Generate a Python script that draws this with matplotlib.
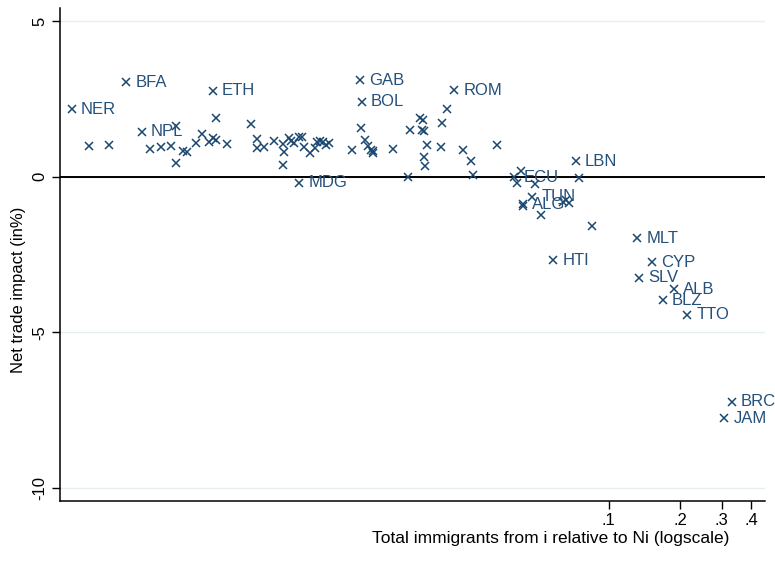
import matplotlib
matplotlib.use("Agg")
import matplotlib.pyplot as plt
from matplotlib.ticker import FixedLocator, FixedFormatter, NullLocator

plt.rcParams['font.family'] = ['Liberation Sans', 'DejaVu Sans']

# Labelled countries: immigrant share (x) and net trade impact in % (y)
labelled_codes = ["NER", "BFA", "NPL", "ETH", "MDG", "GAB", "BOL", "ROM", "ECU",
                  "LBN", "TUN", "ALG", "HTI", "MLT", "CYP", "SLV", "ALB", "BLZ",
                  "TTO", "BRC", "JAM"]
labelled_x = [0.000542, 0.000922, 0.00107, 0.00213, 0.00495, 0.00895, 0.00910,
              0.02231, 0.0400, 0.07258, 0.0476, 0.04363, 0.05838, 0.1320,
              0.1523, 0.1339, 0.1886, 0.1690, 0.2146, 0.3304, 0.3075]
labelled_y = [2.17, 3.04, 1.45, 2.76, -0.19, 3.10, 2.40, 2.77, -0.01, 0.50,
              -0.65, -0.88, -2.68, -1.98, -2.74, -3.24, -3.62, -3.97, -4.43,
              -7.23, -7.75]

# Remaining countries (unlabelled)
other_x = [0.000643, 0.000779, 0.00116, 0.00129, 0.00142, 0.00149, 0.00149,
           0.00160, 0.00167, 0.00181, 0.00192, 0.00206, 0.00215, 0.00220,
           0.00221, 0.00246, 0.00311, 0.00327, 0.00327, 0.00352, 0.00386,
           0.00424, 0.00428, 0.00422, 0.00449, 0.00455, 0.00471, 0.00493,
           0.00506, 0.00518, 0.00549, 0.00577, 0.00590, 0.00605, 0.00621,
           0.00642, 0.00659, 0.00826, 0.00901, 0.00937, 0.00962, 0.00990,
           0.01010, 0.01016, 0.01233, 0.01419, 0.01451, 0.01599, 0.01641,
           0.01626, 0.01662, 0.01712, 0.01667, 0.01684, 0.01955, 0.01980,
           0.02073, 0.02435, 0.02617, 0.02668, 0.03368, 0.04254, 0.04115,
           0.04887, 0.04329, 0.05205, 0.06397, 0.06587, 0.06781, 0.07516,
           0.0850]
other_y = [0.99, 1.01, 0.88, 0.96, 1.00, 1.64, 0.45, 0.84, 0.80, 1.07, 1.38,
           1.12, 1.25, 1.90, 1.19, 1.06, 1.69, 1.21, 0.91, 0.94, 1.16, 1.04,
           0.80, 0.36, 1.25, 1.16, 1.07, 1.29, 1.29, 0.94, 0.75, 0.91, 1.11,
           1.14, 1.11, 1.01, 1.08, 0.85, 1.55, 1.17, 0.98, 0.85, 0.75, 0.83,
           0.89, -0.01, 1.49, 1.88, 1.81, 1.51, 1.46, 1.03, 0.62, 0.35, 0.94,
           1.74, 2.17, 0.85, 0.49, 0.07, 1.03, 0.18, -0.20, -0.25, -0.93,
           -1.24, -0.81, -0.75, -0.84, -0.04, -1.59]

x_ticks = [0.1, 0.2, 0.3, 0.4]
x_tick_labels = [".1", ".2", ".3", ".4"]
y_ticks = [5, 0, -5, -10]
y_tick_labels = ["5", "0", "-5", "-10"]

navy = "#1a476f"

fig = plt.figure(figsize=(7.75, 5.61), dpi=100)
ax = fig.add_axes([0.0774, 0.1070, 0.9097, 0.8788])

ax.set_xscale('log')
ax.set_xlim(0.000484, 0.4565)
ax.set_ylim(-10.41, 5.417)

# light horizontal gridlines and the zero reference line
for yt in y_ticks:
    ax.axhline(yt, color="#e6eef2", lw=1.0, zorder=0)
ax.axhline(0, color="black", lw=1.4, zorder=1)

ax.plot(other_x, other_y, linestyle="none", marker="x", color=navy,
        markersize=5.8, markeredgewidth=1.1, zorder=3)
ax.plot(labelled_x, labelled_y, linestyle="none", marker="x", color=navy,
        markersize=5.8, markeredgewidth=1.1, zorder=3)
for code, xv, yv in zip(labelled_codes, labelled_x, labelled_y):
    ax.annotate(code, (xv, yv), xytext=(6.5, 0), textcoords="offset points",
                ha="left", va="center", fontsize=12, color="#24507a", zorder=4)

for side in ("top", "right"):
    ax.spines[side].set_visible(False)
for side in ("left", "bottom"):
    ax.spines[side].set_linewidth(1.1)
    ax.spines[side].set_color("black")

ax.xaxis.set_major_locator(FixedLocator(x_ticks))
ax.xaxis.set_major_formatter(FixedFormatter(x_tick_labels))
ax.xaxis.set_minor_locator(NullLocator())
ax.set_yticks(y_ticks)
ax.set_yticklabels(y_tick_labels, rotation=90, va="center")
ax.tick_params(axis="both", which="major", length=5.5, width=1.0,
               labelsize=12, pad=3.5, color="black")

fig.text(551 / 775, 1 - 538 / 561,
         "Total immigrants from i relative to Ni (logscale)",
         ha="center", va="center", fontsize=12.5)
fig.text(19 / 775, 1 - 290 / 561, "Net trade impact (in%)",
         ha="center", va="center", rotation=90, fontsize=12)

fig.savefig("out.png", dpi=100, facecolor="white")
